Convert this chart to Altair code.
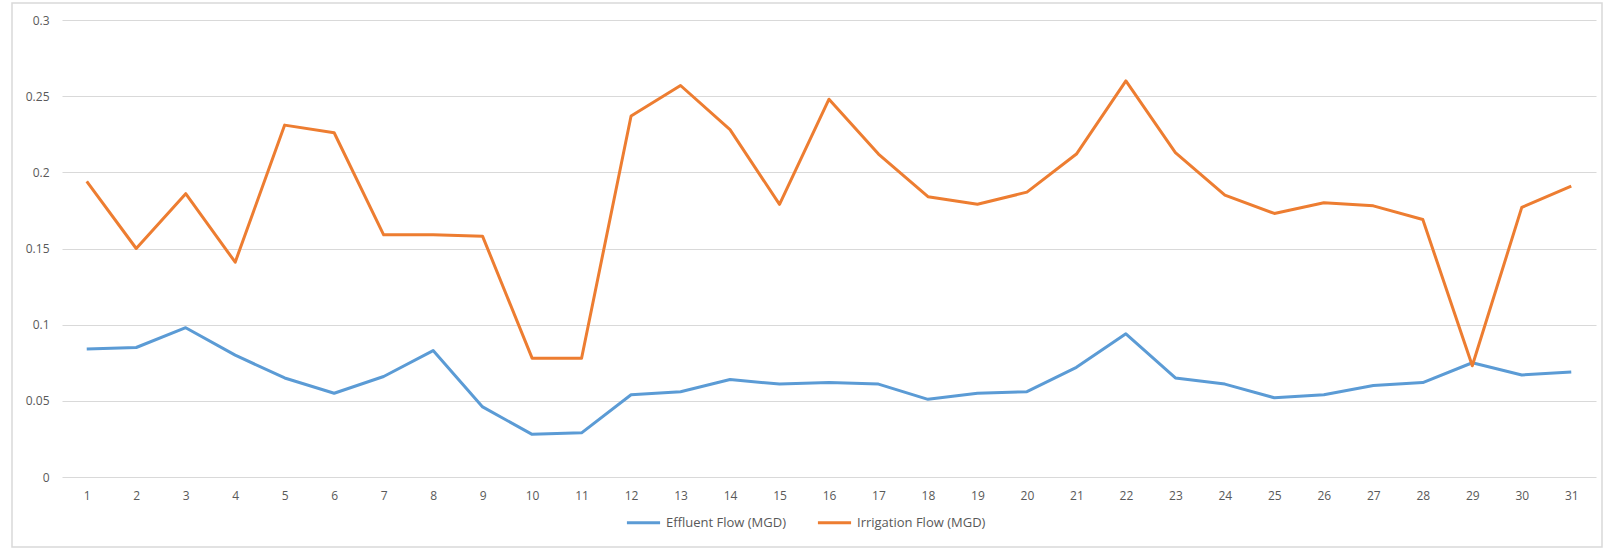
import altair as alt
import pandas as pd

days = [str(i) for i in range(1, 32)]
effluent = [0.084, 0.085, 0.098, 0.080, 0.065, 0.055, 0.066, 0.083, 0.046, 0.028,
            0.029, 0.054, 0.056, 0.064, 0.061, 0.062, 0.061, 0.051, 0.055, 0.056,
            0.072, 0.094, 0.065, 0.061, 0.052, 0.054, 0.060, 0.062, 0.075, 0.067, 0.069]
irrigation = [0.194, 0.150, 0.186, 0.141, 0.231, 0.226, 0.159, 0.159, 0.158, 0.078,
              0.078, 0.237, 0.257, 0.228, 0.179, 0.248, 0.212, 0.184, 0.179, 0.187,
              0.212, 0.260, 0.213, 0.185, 0.173, 0.180, 0.178, 0.169, 0.073, 0.177, 0.191]
series_names = ["Effluent Flow (MGD)", "Irrigation Flow (MGD)"]
series_colors = ["#5B9BD5", "#ED7D31"]
y_ticks = [0, 0.05, 0.1, 0.15, 0.2, 0.25, 0.3]

rows = []
for d, e, r in zip(days, effluent, irrigation):
    rows.append({"day": d, "series": series_names[0], "value": e, "order": 0})
    rows.append({"day": d, "series": series_names[1], "value": r, "order": 1})
df = pd.DataFrame(rows)

W, H = 1534, 457
FONT = "Open Sans"

lines = alt.Chart(df).mark_line(strokeWidth=3, strokeJoin="round").encode(
    x=alt.X("day:O", sort=days, title=None,
            scale=alt.Scale(type="point", padding=0.5),
            axis=alt.Axis(labelAngle=0, ticks=False, domain=False, grid=False,
                          labelPadding=13, labelColor="#595959", labelFontSize=12,
                          labelFont=FONT)),
    y=alt.Y("value:Q", title=None,
            scale=alt.Scale(domain=[0, 0.3], nice=False, zero=True),
            axis=alt.Axis(values=y_ticks, format="~g", ticks=False, domain=False,
                          grid=True, gridColor="#d9d9d9", gridWidth=1,
                          labelPadding=13, labelColor="#595959", labelFontSize=12,
                          labelFont=FONT)),
    color=alt.Color("series:N", sort=series_names,
                    scale=alt.Scale(domain=series_names, range=series_colors),
                    legend=alt.Legend(title=None, orient="none", legendX=563, legendY=484,
                                      direction="horizontal", symbolType="stroke",
                                      symbolSize=1100, symbolStrokeWidth=3,
                                      labelFontSize=13, labelColor="#595959",
                                      labelFont=FONT, columnPadding=24,
                                      labelOffset=4)),
    detail="series:N",
)

border = alt.Chart(pd.DataFrame({"k": [0]})).mark_rect(
    fill=None, stroke="#d9d9d9", strokeWidth=1.5, clip=False
).encode(
    x=alt.value(-50), x2=alt.value(W + 6), y=alt.value(-17), y2=alt.value(H + 70)
)

chart = alt.layer(border, lines).properties(
    width=W, height=H,
    autosize=alt.AutoSizeParams(type="none"),
    padding={"left": 62, "top": 20, "right": 11, "bottom": 72},
    background="white",
).configure_view(stroke=None)

chart.save("out.html", embed_options={"renderer": "svg", "actions": False})
